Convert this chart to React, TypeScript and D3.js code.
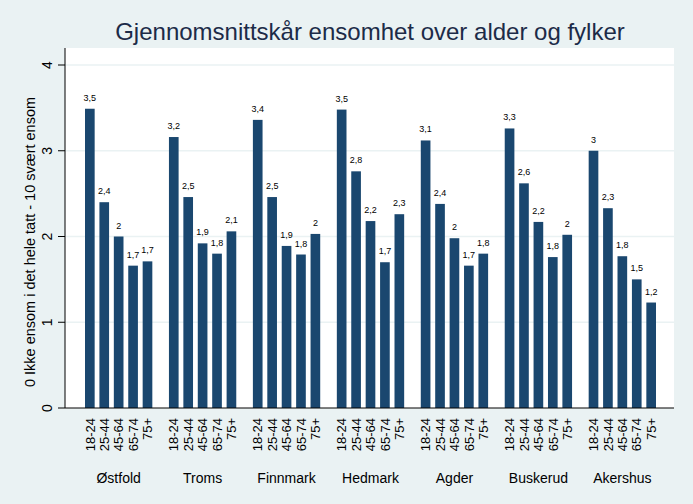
import React from "react";
import * as d3 from "d3";

const W = 693;
const H = 504;

const groups = ["Østfold", "Troms", "Finnmark", "Hedmark", "Agder", "Buskerud", "Akershus"];
const ages = ["18-24", "25-44", "45-64", "65-74", "75+"];

const ostfold = [3.49, 2.4, 2.0, 1.66, 1.71];
const troms = [3.16, 2.46, 1.92, 1.8, 2.06];
const finnmark = [3.36, 2.46, 1.89, 1.79, 2.03];
const hedmark = [3.48, 2.76, 2.18, 1.7, 2.26];
const agder = [3.12, 2.38, 1.98, 1.66, 1.8];
const buskerud = [3.26, 2.62, 2.17, 1.76, 2.02];
const akershus = [3.0, 2.33, 1.77, 1.5, 1.23];

const seriesByGroup = [ostfold, troms, finnmark, hedmark, agder, buskerud, akershus];
const yTicks = [0, 1, 2, 3, 4];

const title = "Gjennomsnittskår ensomhet over alder og fylker";
const yTitle = "0 Ikke ensom i det hele tatt - 10 svært ensom";

const plot = { left: 65, right: 674, top: 48, bottom: 408 };
const FONT = "Arial, 'Liberation Sans', sans-serif";
const BAR = "#1a476f";

const fmt = (v: number) => {
  const s = d3.format(".1f")(v);
  return s.endsWith(".0") ? s.slice(0, -2) : s.replace(".", ",");
};

export default function App() {
  const y = d3.scaleLinear().domain([0, 4]).range([plot.bottom, 65]);
  const x0 = d3
    .scaleBand<string>()
    .domain(groups)
    .range([plot.left + 20, plot.right - 18])
    .paddingInner(0.198)
    .paddingOuter(0);
  const x1 = d3
    .scaleBand<string>()
    .domain(ages)
    .range([0, x0.bandwidth()])
    .paddingInner(0.33)
    .paddingOuter(0);

  return (
    <svg width={W} height={H} style={{ display: "block", position: "absolute", left: 0, top: 0 }}>
      <rect x={0} y={0} width={W} height={H} fill="#eaf2f3" />
      <rect
        x={plot.left}
        y={plot.top}
        width={plot.right - plot.left}
        height={plot.bottom - plot.top}
        fill="#ffffff"
      />
      <text
        x={370}
        y={40}
        textAnchor="middle"
        fontFamily={FONT}
        fontSize={24}
        fill="#1c2b48"
      >
        {title}
      </text>
      {yTicks.map((t) => (
        <g key={t}>
          {t > 0 && (
            <line
              x1={plot.left}
              x2={plot.right}
              y1={y(t)}
              y2={y(t)}
              stroke="#eaf2f3"
              strokeWidth={1.5}
            />
          )}
          <line x1={plot.left - 7} x2={plot.left} y1={y(t)} y2={y(t)} stroke="#000" strokeWidth={1} />
          <text
            transform={`translate(${51.5},${y(t)}) rotate(-90)`}
            textAnchor="middle"
            fontFamily={FONT}
            fontSize={14}
            fill="#000"
          >
            {t}
          </text>
        </g>
      ))}
      <text
        transform={`translate(${35},${242}) rotate(-90)`}
        textAnchor="middle"
        fontFamily={FONT}
        fontSize={14.5}
        fill="#000"
      >
        {yTitle}
      </text>
      {groups.map((g, gi) => {
        const gx = x0(g) ?? 0;
        return (
          <g key={g}>
            {ages.map((a, ai) => {
              const v = seriesByGroup[gi][ai];
              const bx = gx + (x1(a) ?? 0);
              const bw = x1.bandwidth();
              const cx = bx + bw / 2;
              return (
                <g key={a}>
                  <rect x={bx} y={y(v)} width={bw} height={y(0) - y(v)} fill={BAR} />
                  <text
                    x={cx}
                    y={y(v) - 8}
                    textAnchor="middle"
                    fontFamily={FONT}
                    fontSize={9}
                    fill="#000"
                  >
                    {fmt(v)}
                  </text>
                  <text
                    transform={`translate(${cx + 4.7},${418}) rotate(-90)`}
                    textAnchor="end"
                    fontFamily={FONT}
                    fontSize={13}
                    fill="#000"
                  >
                    {a}
                  </text>
                </g>
              );
            })}
            <text
              x={gx + x0.bandwidth() / 2}
              y={483}
              textAnchor="middle"
              fontFamily={FONT}
              fontSize={14}
              fill="#000"
            >
              {g}
            </text>
          </g>
        );
      })}
      <line x1={plot.left} x2={plot.left} y1={plot.top} y2={plot.bottom} stroke="#000" strokeWidth={1} />
      <line x1={plot.left} x2={plot.right} y1={plot.bottom} y2={plot.bottom} stroke="#000" strokeWidth={1} />
    </svg>
  );
}
